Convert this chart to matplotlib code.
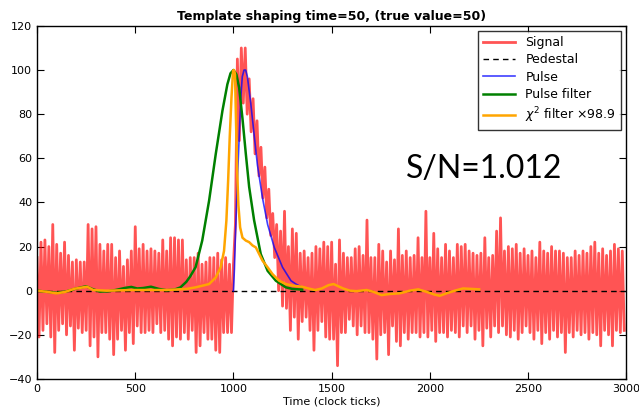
import matplotlib
matplotlib.use("Agg")
import matplotlib.pyplot as plt
import numpy as np

# signal envelope, one hi/lo pair every 20 clock ticks
sig_hi = [15, 22, 23, 20, 30, 21, 17, 22, 16, 13,
          14, 13, 13, 30, 28, 29, 21, 18, 21, 21,
          15, 18, 11, 14, 18, 29, 19, 21, 18, 19,
          18, 17, 23, 18, 24, 24, 23, 23, 14, 15,
          15, 17, 12, 13, 15, 15, 17, 14, 15, 12,
          12, 105, 110, 110, 96, 87, 77, 65, 56, 46,
          35, 30, 27, 36, 20, 28, 26, 17, 18, 15,
          17, 20, 19, 22, 20,
          22, 12, 23, 17, 15, 15, 19, 20, 16, 32,
          15, 15, 21, 18, 13, 18, 14, 28, 16, 18,
          15, 16, 24, 15, 36, 15, 26, 19, 15, 21,
          18, 15, 21, 20, 21, 18, 17, 16, 17, 24,
          15, 16, 27, 33, 18, 20, 19, 21, 17, 19,
          16, 18, 15, 22, 18, 17, 20, 18, 18, 17,
          15, 15, 18, 16, 18, 17, 20, 22, 17, 19,
          16, 18, 21, 19, 18]
sig_lo = [-21, -18, -15, -21, -28, -18, -15, -20, -16, -27,
          -17, -19, -18, -25, -21, -30, -19, -19, -22, -29,
          -22, -18, -27, -19, -24, -16, -19, -19, -18, -19,
          -15, -19, -18, -22, -25, -21, -22, -19, -22, -18,
          -28, -25, -19, -22, -22, -27, -28, -19, -19, -19,
          30, 68, 85, 80, 72, 62, 52, 42, 33, 25,
          15, 0, -7, -8, -18, -12, -22, -14, -12, -18,
          -27, -18, -14, -21, -22,
          -22, -34, -19, -19, -13, -16, -20, -16, -19, -19,
          -22, -31, -20, -19, -29, -16, -23, -25, -19, -22,
          -19, -19, -21, -19, -21, -18, -23, -19, -19, -21,
          -18, -19, -21, -16, -19, -16, -22, -18, -25, -17,
          -21, -16, -19, -16, -20, -21, -18, -22, -19, -16,
          -19, -22, -18, -24, -19, -22, -18, -21, -19, -28,
          -19, -21, -18, -20, -19, -22, -19, -20, -25, -18,
          -20, -25, -18, -19, -18]

pulse_t = [1000, 1005, 1010, 1020, 1029, 1037, 1045, 1054, 1062, 1071,
           1088, 1105, 1122, 1148, 1174, 1208, 1250, 1293, 1318, 1350]
pulse_v = [0, 10, 25, 50, 69, 87, 97, 100, 100, 97,
           85, 71, 57, 42, 30, 19.6, 10.6, 4.5, 3, 1.5]

filt_t = [0, 50, 100, 150, 200, 250, 280, 320, 360, 400,
          450, 480, 510, 540, 580, 620, 660, 700, 730, 760,
          780, 807, 841, 876, 910, 944, 969, 985, 1000, 1015,
          1029, 1046, 1063, 1080, 1105, 1139, 1174, 1216, 1267, 1300, 1350]
filt_v = [0, -0.5, -1, -0.3, 1, 2, 0.8, -0.4, -0.3, 0.3,
          1.3, 1.7, 1.0, 1.2, 1.8, 0.8, 0.2, 0.5, 1.5, 4,
          6.5, 10.6, 22.7, 40.8, 62, 81.6, 93.5, 98.5, 100, 98,
          92, 78, 62, 47, 32, 16.6, 9, 4.5, 1.5, 0.8, 0.5]

chi_t = [0, 48, 99, 141, 192, 255, 286, 354, 490, 660,
         762, 807, 876, 910, 935, 952, 964, 973, 981, 990,
         998, 1003, 1008, 1013, 1019, 1025, 1034, 1046, 1063, 1080,
         1097, 1114, 1131, 1148, 1174, 1199, 1233, 1267, 1301, 1348,
         1382, 1416, 1450, 1484, 1510, 1534, 1559, 1593, 1627, 1678,
         1712, 1754, 1797, 1847, 1898, 1941, 1983, 2025, 2051, 2085,
         2127, 2169, 2212, 2251]
chi_v = [0, -0.5, -1.2, -0.6, 0.9, 1.8, 0.3, 0, 0.3, 0.3,
         0.8, 1.5, 3, 6, 10.6, 18, 31.7, 50, 69.5, 87.6,
         99.7, 100, 98, 77, 54, 39, 28.7, 24, 22.7, 22,
         20.5, 19.6, 16.6, 13.6, 10.6, 7.5, 4.5, 3, 2.3, 1.8,
         1, 0.3, 1, 2.5, 3, 2, 1, 0, -0.2, 0.3,
         -0.5, -2, -1.5, -1.2, 0, 0.6, -0.5, -1.8, -2.3, -1.2,
         0, 1, 0.8, 0.6]

chi_scale = 98.9
sn_text = "S/N=1.012"

plt.rcParams["path.simplify"] = False
plt.rcParams["xtick.direction"] = "in"
plt.rcParams["ytick.direction"] = "in"
plt.rcParams["xtick.top"] = True
plt.rcParams["ytick.right"] = True
plt.rcParams["xtick.major.size"] = 5
plt.rcParams["ytick.major.size"] = 5

fig = plt.figure(figsize=(6.39, 4.11), dpi=100)
ax = fig.add_axes([0.058, 0.078, 0.922, 0.859])

# signal: zigzag between the read-off highs and lows
t0 = np.arange(0, 3000, 20)
sx = np.ravel(np.column_stack([t0, t0 + 10]))
sy = np.ravel(np.column_stack([sig_hi, sig_lo]))
ax.plot(sx, sy, color="r", alpha=0.67, lw=2.0, label="Signal")

ax.plot([0, 3000], [0, 0], color="k", ls=(0, (4, 3)), lw=1, label="Pedestal")
ax.plot(pulse_t, pulse_v, color="b", alpha=0.75, lw=1.2, label="Pulse")
ax.plot(filt_t, filt_v, color="g", lw=1.8, label="Pulse filter")
ax.plot(chi_t, chi_v, color="orange", lw=1.8,
        label=r"$\chi^2$ filter $\times$%.1f" % chi_scale)

ax.set_xlim(0, 3000)
ax.set_ylim(-40, 120)
ax.set_xticks(np.arange(0, 3001, 500))
ax.set_yticks(np.arange(-40, 121, 20))
ax.tick_params(labelsize=8)
for s in ax.spines.values():
    s.set_linewidth(1)

ax.set_xlabel("Time (clock ticks)", fontsize=8, labelpad=2)
ax.set_title("Template shaping time=50, (true value=50)", fontsize=9,
             fontweight="bold", pad=4)

ax.text(1880, 55, sn_text, fontsize=23, family="Lato", va="center")

leg = ax.legend(loc="upper right", fontsize=9, fancybox=False,
                edgecolor="k", borderaxespad=0.4, handlelength=2.6,
                labelspacing=0.35)
leg.get_frame().set_linewidth(1)

fig.savefig("out.png", dpi=100)
